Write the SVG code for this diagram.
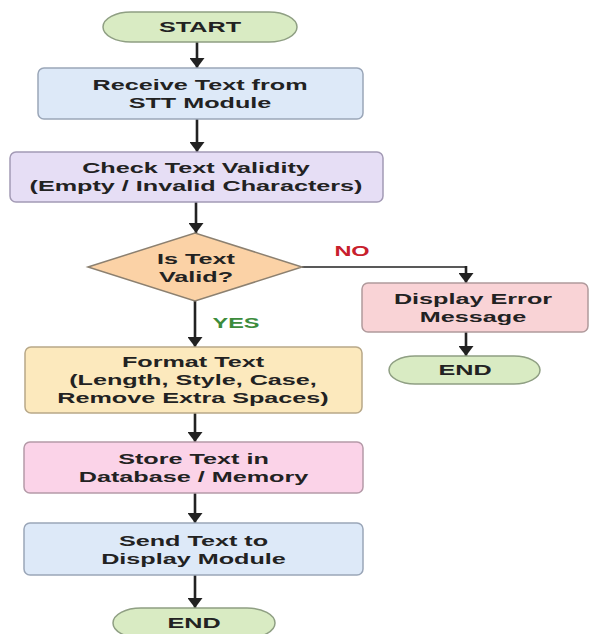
<svg xmlns="http://www.w3.org/2000/svg" width="593" height="634" viewBox="0 0 593 634">
<style>
.t{font-family:"Liberation Sans",Arial,sans-serif;font-weight:bold;font-size:15px;fill:#222;text-anchor:middle}
.s{font-size:14px}
.term{fill:#d9ebc3;stroke:#8f9f83;stroke-width:1.5}
.blue{fill:#dde9f8;stroke:#9aa6b8;stroke-width:1.5}
.lav{fill:#e6def5;stroke:#a39ab5;stroke-width:1.5}
.dia{fill:#fbd2a6;stroke:#8c8070;stroke-width:1.5}
.yel{fill:#fce9bd;stroke:#b8a888;stroke-width:1.5}
.red{fill:#f9d3d6;stroke:#b09a9c;stroke-width:1.5}
.pink{fill:#fbd3e8;stroke:#b59aa8;stroke-width:1.5}
.c{fill:none;stroke:#222;stroke-width:2.6}
.ch{fill:none;stroke:#222;stroke-width:1.6}
</style>
<defs>
<marker id="ah" markerUnits="userSpaceOnUse" markerWidth="10" markerHeight="15" refX="10" refY="7.5" orient="auto">
<path d="M0,0 L10,7.5 L0,15 z" fill="#222"/>
</marker>
</defs>
<rect width="593" height="634" fill="#fff"/>
<g id="connectors">
<path class="c" d="M197,42 V68" marker-end="url(#ah)"/>
<path class="c" d="M197,119 V152" marker-end="url(#ah)"/>
<path class="c" d="M196,202 V233" marker-end="url(#ah)"/>
<path class="c" d="M195,301 V347" marker-end="url(#ah)"/>
<path class="ch" d="M302,267 H466"/>
<path class="c" d="M466,266 V283" marker-end="url(#ah)"/>
<path class="c" d="M466,332 V356" marker-end="url(#ah)"/>
<path class="c" d="M195,413 V442" marker-end="url(#ah)"/>
<path class="c" d="M195,493 V523" marker-end="url(#ah)"/>
<path class="c" d="M195,575 V608" marker-end="url(#ah)"/>
<text class="t s" fill="#c8202c" style="fill:#c8202c" transform="matrix(1.68 0 0 1 352 0)" x="0" y="256">NO</text>
<text class="t s" style="fill:#3c8c3c" transform="matrix(1.68 0 0 1 236 0)" x="0" y="328">YES</text>
</g>
<g id="start">
<rect class="term" x="103" y="12" width="194" height="30" rx="28" ry="15"/>
<text class="t" transform="matrix(1.68 0 0 1 200 0)" x="0" y="32.5">START</text>
</g>
<g id="receive">
<rect class="blue" x="38" y="68" width="325" height="51" rx="6"/>
<text class="t" transform="matrix(1.68 0 0 1 200 0)"><tspan x="0" y="90.5">Receive Text from</tspan><tspan x="0" y="108">STT Module</tspan></text>
</g>
<g id="check">
<rect class="lav" x="10" y="152" width="373" height="50" rx="6"/>
<text class="t" transform="matrix(1.68 0 0 1 196 0)"><tspan x="0" y="173.5">Check Text Validity</tspan><tspan x="0" y="191.5">(Empty / Invalid Characters)</tspan></text>
</g>
<g id="valid">
<polygon class="dia" points="88,267 195,233 302,267 195,301"/>
<text class="t" transform="matrix(1.68 0 0 1 196 0)"><tspan x="0" y="264.5">Is Text</tspan><tspan x="0" y="282.5">Valid?</tspan></text>
</g>
<g id="error">
<rect class="red" x="362" y="283" width="226" height="49" rx="6"/>
<text class="t" transform="matrix(1.68 0 0 1 473 0)"><tspan x="0" y="304.5">Display Error</tspan><tspan x="0" y="322.5">Message</tspan></text>
</g>
<g id="end2">
<rect class="term" x="389" y="356" width="151" height="28" rx="26" ry="14"/>
<text class="t" transform="matrix(1.68 0 0 1 465 0)" x="0" y="375.5">END</text>
</g>
<g id="format">
<rect class="yel" x="25" y="347" width="337" height="66" rx="6"/>
<text class="t" transform="matrix(1.68 0 0 1 193 0)"><tspan x="0" y="367.5">Format Text</tspan><tspan x="0" y="385.5">(Length, Style, Case,</tspan><tspan x="0" y="403.5">Remove Extra Spaces)</tspan></text>
</g>
<g id="store">
<rect class="pink" x="24" y="442" width="339" height="51" rx="6"/>
<text class="t" transform="matrix(1.68 0 0 1 193.5 0)"><tspan x="0" y="464.5">Store Text in</tspan><tspan x="0" y="482.5">Database / Memory</tspan></text>
</g>
<g id="send">
<rect class="blue" x="24" y="523" width="339" height="52" rx="6"/>
<text class="t" transform="matrix(1.68 0 0 1 193.5 0)"><tspan x="0" y="546.5">Send Text to</tspan><tspan x="0" y="564">Display Module</tspan></text>
</g>
<g id="end1">
<rect class="term" x="113" y="608" width="162" height="30" rx="28" ry="15"/>
<text class="t" transform="matrix(1.68 0 0 1 194 0)" x="0" y="628.5">END</text>
</g>
</svg>
